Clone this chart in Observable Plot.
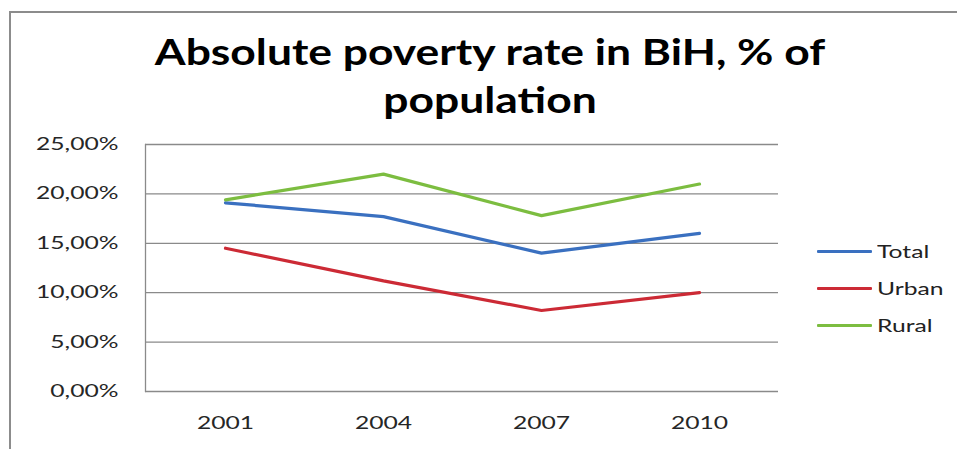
<!DOCTYPE html>
<html><head><meta charset="utf-8">
<script src="https://cdn.jsdelivr.net/npm/d3@7"></script>
<script src="https://cdn.jsdelivr.net/npm/@observablehq/plot@0.6"></script>
<style>
html,body{margin:0;padding:0;background:#fff;}
#wrap{position:relative;width:957px;height:449px;overflow:hidden;font-family:Lato,"Open Sans",sans-serif;}
#frame{position:absolute;left:9px;top:11px;width:1000px;height:500px;border-left:2px solid #8c8c8c;border-top:2px solid #8c8c8c;}
#title{position:absolute;left:0;top:27px;width:980px;text-align:center;font-weight:bold;font-size:37px;line-height:48px;color:#000;transform:scaleX(1.2);transform-origin:490px 0;}
#legend{position:absolute;left:817px;top:233px;font-size:17px;color:#222;}
.li{display:flex;align-items:center;height:37px;}
.sw{width:55px;height:3px;margin-right:5px;border-radius:1px;}
.li span{display:inline-block;transform:scaleX(1.45);transform-origin:0 50%;}
#chart{position:absolute;left:0;top:0;}
</style></head>
<body><div id="wrap"><div id="frame"></div><div id="title">Absolute poverty rate in BiH, % of<br>population</div><div id="chart"></div><div id="legend"></div></div>
<script>
const years = ["2001","2004","2007","2010"];
const seriesNames = ["Total","Urban","Rural"];
const totalValues = [19.1, 17.7, 14.0, 16.0];
const urbanValues = [14.5, 11.2, 8.2, 10.0];
const ruralValues = [19.4, 22.0, 17.8, 21.0];
const yTicks = [0, 5, 10, 15, 20, 25];
const colors = ["#3a70c0", "#cc2a35", "#7cbd40"];

const valuesBySeries = [totalValues, urbanValues, ruralValues];
const data = seriesNames.flatMap((s, i) => years.map((y, j) => ({series: s, year: y, value: valuesBySeries[i][j]})));

const fmt = d => d.toFixed(2).replace(".", ",") + "%";

const chart = Plot.plot({
  width: 957, height: 449,
  marginLeft: 145, marginRight: 179, marginTop: 144, marginBottom: 58,
  style: {fontFamily: "Lato, 'Open Sans', sans-serif", fontSize: "17px", color: "#262626", background: "transparent"},
  x: {type: "point", domain: years, padding: 0.5, label: null, tickSize: 0, tickPadding: 25},
  y: {domain: [0, 25], ticks: yTicks, tickFormat: fmt, label: null, tickSize: 0, tickPadding: 27},
  color: {domain: seriesNames, range: colors},
  marks: [
    Plot.ruleY(yTicks, {stroke: "#8a8a8a", strokeWidth: 1.3}),
    Plot.frame({anchor: "left", stroke: "#8a8a8a", strokeWidth: 1.3}),
    Plot.line(data, {x: "year", y: "value", z: "series", stroke: "series", strokeWidth: 3.2, strokeLinejoin: "miter", strokeLinecap: "round"}),
    Plot.axisX({tickSize: 0, tickPadding: 25, fontSize: 17}),
    Plot.axisY({tickSize: 0, tickPadding: 27, tickFormat: fmt, fontSize: 17})
  ]
});
document.getElementById("chart").appendChild(chart);

// widen tick labels horizontally around their anchor point, like the reference's stretched text
chart.querySelectorAll("text").forEach(t => {
  let px = parseFloat(t.getAttribute("x"));
  if (!isFinite(px)) px = 0;
  const tr = t.getAttribute("transform") || "";
  t.setAttribute("transform", `${tr} translate(${px},0) scale(1.45,1) translate(${-px},0)`.trim());
});

const legend = document.getElementById("legend");
seriesNames.forEach((s, i) => {
  const row = document.createElement("div");
  row.className = "li";
  row.innerHTML = `<div class="sw" style="background:${colors[i]}"></div><span>${s}</span>`;
  legend.appendChild(row);
});
</script>
</body></html>
